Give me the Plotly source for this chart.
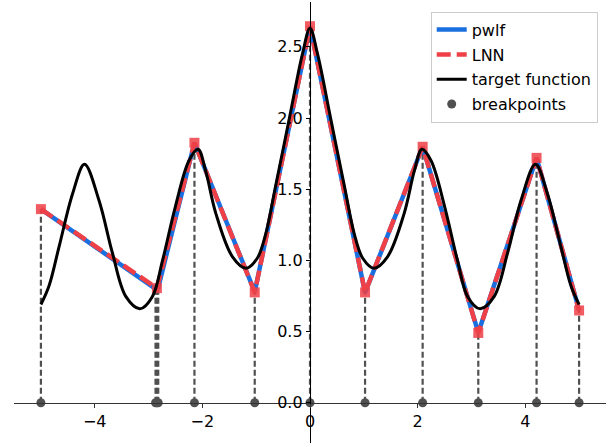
import plotly.graph_objects as go

# Target function
target_x = [-5.0, -4.85, -4.66, -4.41, -4.19, -3.92, -3.67, -3.42, -3.16, -2.93, -2.74, -2.50,
            -2.25, -2.08, -1.94, -1.75, -1.44, -1.19, -0.98, -0.82, -0.64, -0.39, -0.14, 0.0,
            0.14, 0.39, 0.64, 0.82, 0.98, 1.19, 1.44, 1.75, 1.94, 2.08, 2.25, 2.50, 2.74, 2.93,
            3.16, 3.42, 3.67, 3.92, 4.19, 4.41, 4.66, 4.85, 5.0]
target_y = [0.69, 0.82, 1.10, 1.47, 1.675, 1.42, 1.05, 0.745, 0.66, 0.745, 1.00, 1.38,
            1.70, 1.78, 1.63, 1.33, 1.025, 0.945, 1.015, 1.19, 1.52, 1.985, 2.45, 2.63,
            2.45, 1.985, 1.52, 1.19, 1.015, 0.945, 1.025, 1.33, 1.63, 1.78, 1.70, 1.38, 1.00, 0.745,
            0.66, 0.745, 1.05, 1.42, 1.675, 1.47, 1.10, 0.82, 0.69]

# pwlf breakpoints and values
breaks_x = [-5.0, -2.87, -2.845, -2.82, -2.147, -1.027, 0.0, 1.023, 2.093, 3.127, 4.21, 5.0]
pwlf_y = [1.36, 0.80, 0.805, 0.808, 1.826, 0.778, 2.645, 0.773, 1.798, 0.492, 1.72, 0.651]

# LNN
lnn_x = [-5.0, -2.845, -2.147, -1.027, 0.0, 1.023, 2.093, 3.127, 4.21, 5.0]
lnn_y = [1.36, 0.805, 1.826, 0.775, 2.645, 0.775, 1.798, 0.49, 1.72, 0.648]

BLUE = '#1a6fe0'
RED = '#ee4046'
GRAY = '#505050'

vx, vy = [], []
for bx, by in zip(breaks_x, pwlf_y):
    vx += [bx, bx, None]
    vy += [0, by, None]

fig = go.Figure()
fig.add_trace(go.Scatter(x=vx, y=vy, mode='lines', showlegend=False, hoverinfo='skip',
                         line=dict(color=GRAY, width=2.2, dash='6px,3px')))
fig.add_trace(go.Scatter(x=breaks_x, y=pwlf_y, mode='lines', name='pwlf', legendrank=1,
                         legendgroup='g1', line=dict(color=BLUE, width=4.5)))
fig.add_trace(go.Scatter(x=lnn_x, y=lnn_y, mode='markers', showlegend=False,
                         marker=dict(symbol='square', size=10, color='rgba(238,64,70,0.85)')))
fig.add_trace(go.Scatter(x=lnn_x, y=lnn_y, mode='lines', name='LNN', legendrank=2,
                         legendgroup='g2', line=dict(color=RED, width=4.5, dash='14px,6px')))
fig.add_trace(go.Scatter(x=target_x, y=target_y, mode='lines', name='target function', legendrank=3,
                         legendgroup='g3',
                         line=dict(color='black', width=3, shape='spline', smoothing=1.0)))
fig.add_trace(go.Scatter(x=breaks_x, y=[0] * len(breaks_x), mode='markers', name='breakpoints',
                         legendrank=4, legendgroup='g4', marker=dict(color=GRAY, size=9)))

ymin, ymax = -0.283, 2.815
fig.update_layout(
    width=614, height=447,
    margin=dict(l=14, r=8, t=2, b=4),
    plot_bgcolor='white', paper_bgcolor='white',
    font=dict(family='DejaVu Sans', size=16, color='black'),
    xaxis=dict(range=[-5.5, 5.5], anchor='free', position=(0 - ymin) / (ymax - ymin),
               showgrid=False, zeroline=False, showline=True, linecolor='#333', linewidth=1.3,
               tickvals=[-4, -2, 0, 2, 4], ticks='outside', ticklen=4, tickcolor='#333',
               tickfont=dict(size=16)),
    yaxis=dict(range=[ymin, ymax], anchor='free', position=0.5,
               showgrid=False, zeroline=False, showline=True, linecolor='black', linewidth=1.3,
               tickvals=[0, 0.5, 1.0, 1.5, 2.0, 2.5], tickformat='.1f', ticks='outside',
               ticklen=4, tickcolor='black', tickfont=dict(size=16)),
    legend=dict(x=0.986, y=0.978, xanchor='right', yanchor='top',
                bgcolor='rgba(255,255,255,0.85)', bordercolor='#cccccc', borderwidth=1,
                font=dict(size=16), tracegroupgap=1),
    showlegend=True,
)

fig.write_html('out.html', config={'displayModeBar': False},
               post_script="document.body.style.margin='0';document.body.style.overflow='hidden';")
